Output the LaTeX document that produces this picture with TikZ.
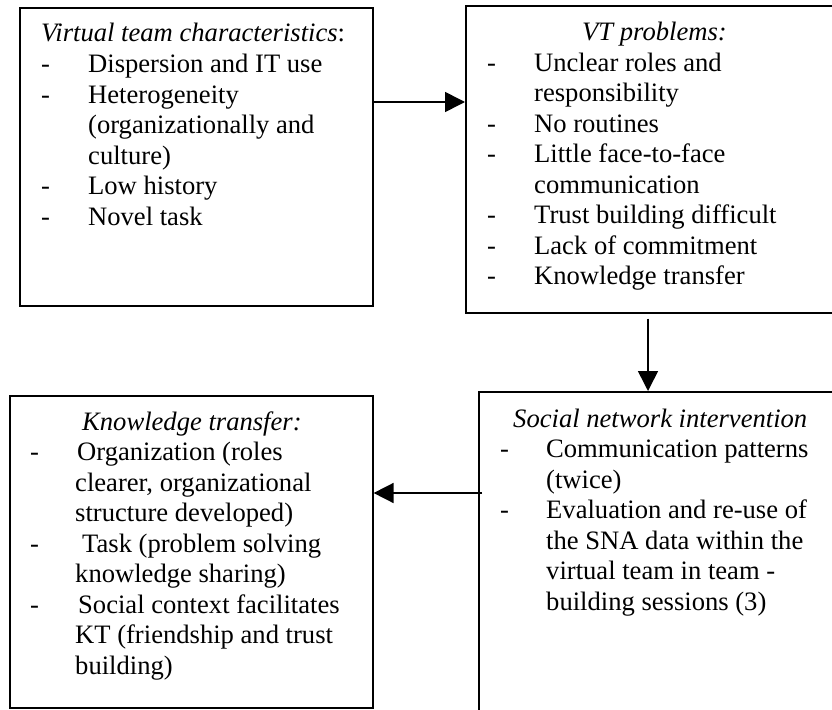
\documentclass[tikz,border=0pt]{standalone}
\usepackage{fontspec}
\setmainfont{Liberation Serif}
\usetikzlibrary{arrows.meta}

\tikzset{
  panel/.style={draw, line width=1.6pt, anchor=north west, inner sep=0pt},
  listing/.style={anchor=base west, inner sep=0pt, font=\fontsize{26.6pt}{30.5pt}\selectfont},
  flow/.style={line width=1.6pt, -{Triangle[length=20pt,width=20pt]}}
}

\begin{document}
\begin{tikzpicture}[x=1pt, y=-1pt]
    \useasboundingbox (0,0) rectangle (832,709);
    \clip (0,0) rectangle (832,709);

    % Boxes
    \node[panel, minimum width=353pt, minimum height=298pt] (chars) at (19,7) {};
    \node[panel, minimum width=400pt, minimum height=307pt] (problems) at (465,5) {};
    \node[panel, minimum width=363pt, minimum height=312pt] (transfer) at (9,395) {};
    \node[panel, minimum width=400pt, minimum height=350pt] (intervention) at (478,391) {};

    % Virtual team characteristics
    \node[listing] (chars-text) at (41,42) {\begin{tabular}[t]{@{}p{47pt}@{}l@{}}
      \multicolumn{2}{@{}l@{}}{\textit{Virtual team characteristics}:}\\
      - & Dispersion and IT use\\
      - & Heterogeneity\\
        & (organizationally and\\
        & culture)\\
      - & Low history\\
      - & Novel task
    \end{tabular}};

    % VT problems
    \node[listing] (problems-text) at (487,41) {\begin{tabular}[t]{@{}p{47pt}@{}l@{}}
      \multicolumn{2}{@{}l@{}}{\hspace*{95pt}\textit{VT problems:}}\\
      - & Unclear roles and\\
        & responsibility\\
      - & No routines\\
      - & Little face-to-face\\
        & communication\\
      - & Trust building difficult\\
      - & Lack of commitment\\
      - & Knowledge transfer
    \end{tabular}};

    % Knowledge transfer
    \node[listing] (transfer-text) at (30,430) {\begin{tabular}[t]{@{}p{45pt}@{}l@{}}
      \multicolumn{2}{@{}l@{}}{\hspace*{52pt}\textit{Knowledge transfer:}}\\
      - & \hspace*{2pt}Organization (roles\\
        & clearer, organizational\\
        & structure developed)\\
      - & \hspace*{7pt}Task (problem solving\\
        & knowledge sharing)\\
      - & \hspace*{3pt}Social context facilitates\\
        & KT (friendship and trust\\
        & building)
    \end{tabular}};

    % Social network intervention
    \node[listing] (intervention-text) at (500,427) {\begin{tabular}[t]{@{}p{46pt}@{}l@{}}
      \multicolumn{2}{@{}l@{}}{\hspace*{13pt}\textit{Social network intervention}}\\
      - & Communication patterns\\
        & (twice)\\
      - & Evaluation and re-use of\\
        & the SNA data within the\\
        & virtual team in team -\\
        & building sessions (3)
    \end{tabular}};

    % Arrows
    \coordinate (a1) at (0,102);
    \coordinate (a2) at (648,0);
    \coordinate (a3) at (0,493);
    \draw[flow] (chars.east |- a1) -- (problems.west |- a1);
    \draw[flow] ([yshift=-5pt]problems.south -| a2) -- (intervention.north -| a2);
    \draw[flow] ([xshift=4pt]intervention.west |- a3) -- (transfer.east |- a3);
\end{tikzpicture}
\end{document}
